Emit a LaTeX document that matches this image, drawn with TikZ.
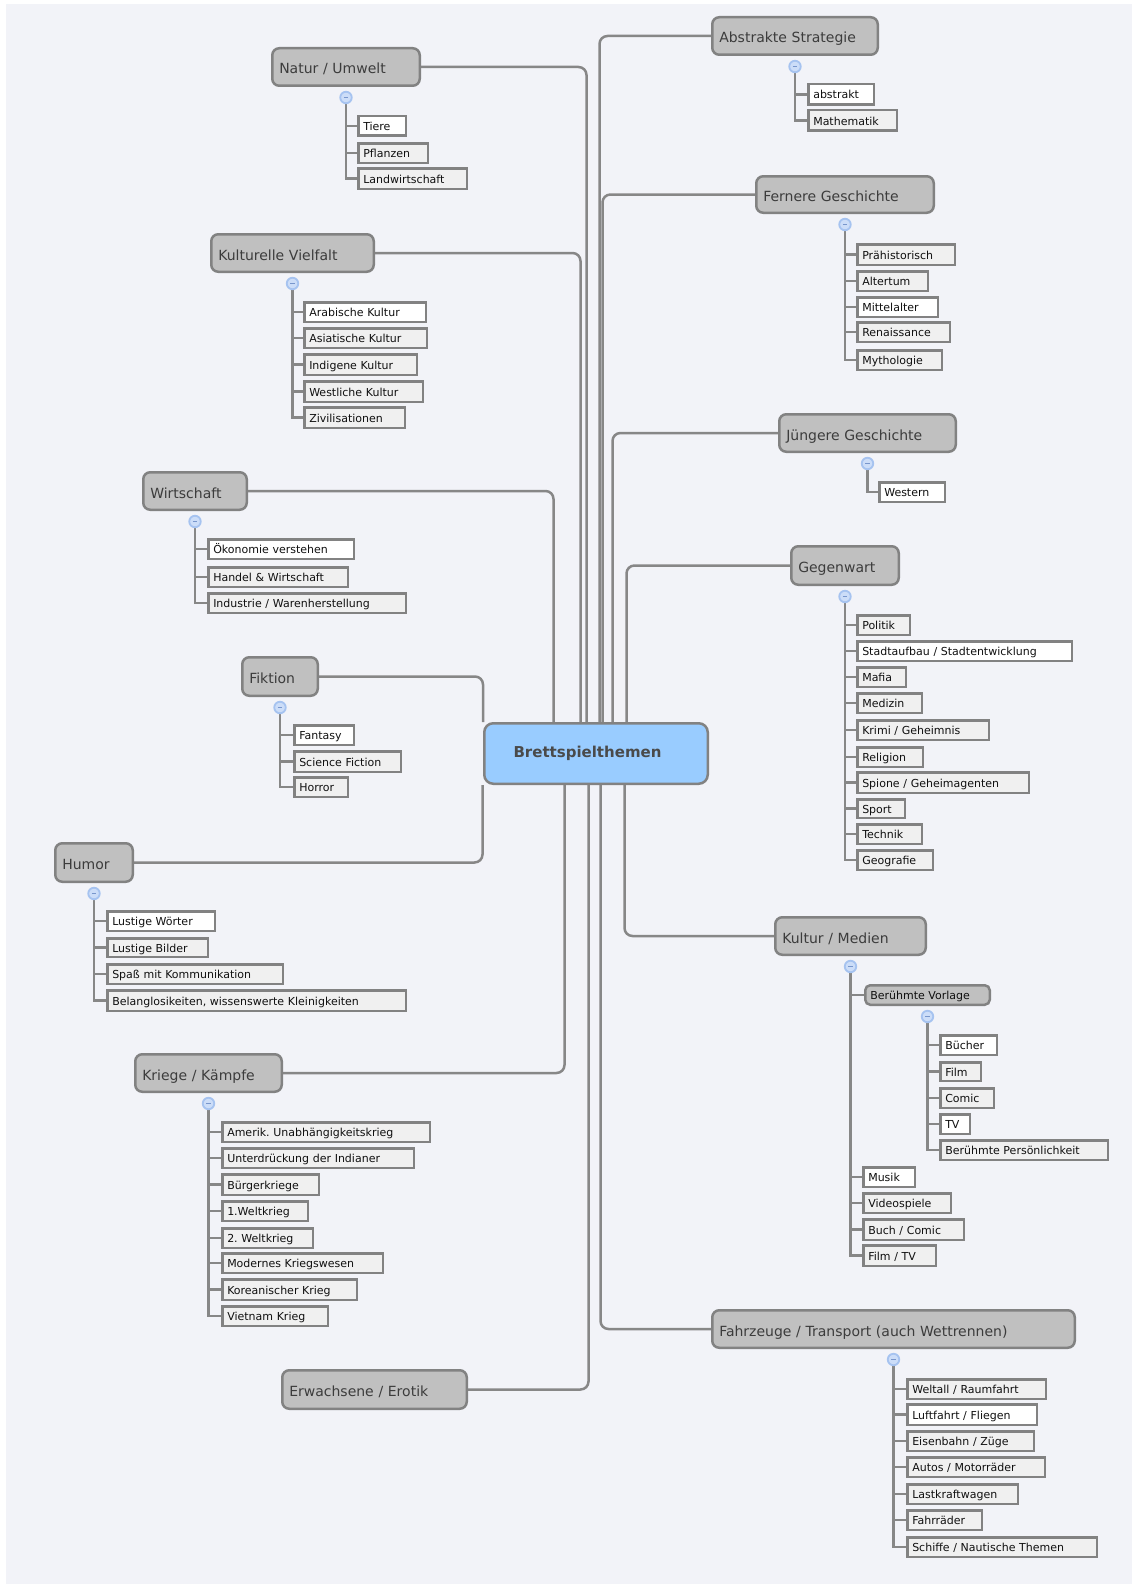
\documentclass[tikz,border=0pt]{standalone}
\usepackage{fontspec}
\setmainfont{DejaVu Sans}
\frenchspacing
\usetikzlibrary{calc}
\pgfdeclarelayer{bg}
\pgfsetlayers{bg,main}
\definecolor{panel}{HTML}{F2F3F8}
\definecolor{linecol}{HTML}{878787}
\definecolor{boxline}{HTML}{828282}
\definecolor{topicfill}{HTML}{C0C0C0}
\definecolor{leafgray}{HTML}{F0F0F0}
\definecolor{centfill}{HTML}{99CCFF}
\definecolor{topictext}{HTML}{3C3C3C}
\definecolor{leaftext}{HTML}{101010}
\definecolor{centtext}{HTML}{4A4A4A}
\definecolor{collfill}{HTML}{CCDDF8}
\definecolor{colldraw}{HTML}{A6C3F0}
\definecolor{colldash}{HTML}{7896CC}
\tikzset{
  topicbox/.style={draw=boxline, fill=topicfill, line width=2.5pt, rounded corners=7pt,
    inner xsep=7pt, inner ysep=0pt, align=left, text height=15pt, text depth=1pt,
    font=\fontsize{14}{16}\selectfont, text=topictext},
  subtopic/.style={draw=boxline, fill=topicfill, line width=2.5pt, rounded corners=5pt,
    inner xsep=5pt, inner ysep=0pt, align=left, text height=10pt, text depth=1pt,
    font=\fontsize{11}{13}\selectfont, text=leaftext},
  leafbox/.style={draw=boxline, fill=leafgray, line width=2.5pt,
    inner xsep=5pt, inner ysep=0pt, align=left, text height=10pt, text depth=1pt,
    font=\fontsize{11}{13}\selectfont, text=leaftext},
  whitebox/.style={fill=white},
  central/.style={draw=boxline, fill=centfill, line width=2.5pt, rounded corners=9pt,
    minimum width=223.5pt, minimum height=60.5pt, inner sep=0pt,
    font=\fontsize{15}{17}\selectfont\bfseries, text=centtext},
  conn/.style={draw=linecol, line width=2.5pt, rounded corners=8pt},
  spine/.style={draw=linecol, line width=2.5pt},
  coll/.style={circle, draw=colldraw, fill=collfill, line width=1.8pt, minimum size=11.5pt, inner sep=0pt,
    path picture={\draw[colldash, line width=1.8pt] ([xshift=-2.2pt]path picture bounding box.center) -- ([xshift=2.2pt]path picture bounding box.center);}},
}
% #1 style, #2 name, #3 x1, #4 y1, #5 x2, #6 y2, #7 text
\newcommand\leaf[7][]{%
  \pgfmathsetmacro\lfw{#5-#3-2.5-10}\pgfmathsetmacro\lfh{#6-#4-2.5}%
  \node[leafbox,#1,text width=\lfw pt,minimum height=\lfh pt] (#2) at ({(#3+#5)/2},{(#4+#6)/2}) {#7};}
\newcommand\topic[7][topicbox]{%
  \pgfmathsetmacro\lfw{#5-#3-2.5-14}\pgfmathsetmacro\lfh{#6-#4-2.5}%
  \node[#1,text width=\lfw pt,minimum height=\lfh pt] (#2) at ({(#3+#5)/2},{(#4+#6)/2}) {#7};}
\begin{document}
\begin{tikzpicture}[x=1pt,y=-1pt]
\useasboundingbox (0,0) rectangle (1132,1584);
\begin{pgfonlayer}{bg}
\fill[white] (0,0) rectangle (1132,1584);
\fill[panel] (6,4) rectangle (1132,1584);
\end{pgfonlayer}

% central
\node[central] (cen) at (596,753.5) {Brettspielthemen\rule{17pt}{0pt}};

% main topics
\topic{natur}{271}{47}{421}{87}{Natur / Umwelt}
\topic{abst}{711}{16}{879}{56}{Abstrakte Strategie}
\topic{kult}{210}{233}{375}{273}{Kulturelle Vielfalt}
\topic{fern}{755}{175}{935}{214}{Fernere Geschichte}
\topic{jung}{778}{413}{957}{453}{Jüngere Geschichte}
\topic{wirt}{142}{471}{248}{511}{Wirtschaft}
\topic{gegen}{790}{545}{900}{586}{Gegenwart}
\topic{fikt}{241}{656}{319}{697}{Fiktion}
\topic{humor}{54}{842}{134}{883}{Humor}
\topic{kmed}{774}{916}{927}{956}{Kultur / Medien}
\topic{krieg}{134}{1053}{283}{1093}{Kriege / Kämpfe}
\topic{erw}{281}{1369}{468}{1410}{Erwachsene / Erotik}
\topic{fahr}{711}{1309}{1076}{1349}{Fahrzeuge / Transport (auch Wettrennen)}
\topic[subtopic]{vorl}{862}{984}{993}{1006}{Berühmte Vorlage}

% collapse markers
\foreach \t in {natur,abst,kult,fern,jung,wirt,gegen,fikt,humor,kmed,krieg,fahr,vorl}
  \node[coll] (\t-c) at ([yshift=-10.5pt]\t.south) {};

% leaves
\leaf[whitebox]{tiere}{357}{115}{407}{137}{Tiere}
\leaf{pfl}{357}{142}{429}{164}{Pflanzen}
\leaf{landw}{357}{167}{468}{190}{Landwirtschaft}

\leaf[whitebox]{abstr}{807}{83}{875}{106}{abstrakt}
\leaf{mathe}{807}{109}{898}{132}{Mathematik}

\leaf[whitebox]{arab}{303}{301}{427}{323}{Arabische Kultur}
\leaf{asiat}{303}{327}{428}{349}{Asiatische Kultur}
\leaf{indig}{303}{353}{418}{376}{Indigene Kultur}
\leaf{westl}{303}{380}{424}{403}{Westliche Kultur}
\leaf{ziv}{303}{406}{406}{429}{Zivilisationen}

\leaf{prah}{856}{243}{956}{266}{Prähistorisch}
\leaf{alt}{856}{270}{929}{292}{Altertum}
\leaf[whitebox]{mitt}{856}{296}{939}{318}{Mittelalter}
\leaf{ren}{856}{321}{951}{343}{Renaissance}
\leaf{myth}{856}{349}{943}{371}{Mythologie}

\leaf[whitebox]{western}{878}{481}{946}{503}{Western}

\leaf[whitebox]{oeko}{207}{538}{355}{560}{Ökonomie verstehen}
\leaf{handel}{207}{566}{349}{588}{Handel \& Wirtschaft}
\leaf{indus}{207}{592}{407}{614}{Industrie / Warenherstellung}

\leaf{politik}{856}{614}{911}{636}{Politik}
\leaf[whitebox]{stadt}{856}{640}{1073}{662}{Stadtaufbau / Stadtentwicklung}
\leaf{mafia}{856}{666}{907}{688}{Mafia}
\leaf{medizin}{856}{692}{923}{714}{Medizin}
\leaf{krimi}{856}{719}{990}{741}{Krimi / Geheimnis}
\leaf{religion}{856}{746}{924}{768}{Religion}
\leaf{spione}{856}{771}{1030}{794}{Spione / Geheimagenten}
\leaf{sport}{856}{798}{906}{819}{Sport}
\leaf{technik}{856}{823}{923}{845}{Technik}
\leaf{geo}{856}{849}{934}{871}{Geografie}

\leaf[whitebox]{fantasy}{293}{724}{355}{746}{Fantasy}
\leaf{scifi}{293}{750}{402}{773}{Science Fiction}
\leaf{horror}{293}{776}{349}{798}{Horror}

\leaf[whitebox]{lwort}{106}{910}{216}{932}{Lustige Wörter}
\leaf{lbild}{106}{937}{209}{958}{Lustige Bilder}
\leaf{spass}{106}{963}{284}{985}{Spaß mit Kommunikation}
\leaf{belang}{106}{989}{407}{1012}{Belanglosikeiten, wissenswerte Kleinigkeiten}

\leaf[whitebox]{buecher}{939}{1034}{998}{1056}{Bücher}
\leaf{film}{939}{1061}{982}{1082}{Film}
\leaf{comic}{939}{1087}{995}{1109}{Comic}
\leaf[whitebox]{tv}{939}{1113}{971}{1135}{TV}
\leaf{pers}{939}{1139}{1109}{1161}{Berühmte Persönlichkeit}
\leaf[whitebox]{musik}{862}{1166}{916}{1188}{Musik}
\leaf{video}{862}{1192}{952}{1214}{Videospiele}
\leaf{buch}{862}{1218}{965}{1241}{Buch / Comic}
\leaf{filmtv}{862}{1244}{937}{1267}{Film / TV}

\leaf{amerik}{221}{1121}{431}{1143}{Amerik. Unabhängigkeitskrieg}
\leaf{unter}{221}{1147}{415}{1169}{Unterdrückung der Indianer}
\leaf{buerger}{221}{1173}{320}{1196}{Bürgerkriege}
\leaf{wka}{221}{1200}{309}{1222}{1.Weltkrieg}
\leaf{wkb}{221}{1227}{314}{1249}{2. Weltkrieg}
\leaf{modern}{221}{1252}{384}{1274}{Modernes Kriegswesen}
\leaf{korea}{221}{1278}{358}{1301}{Koreanischer Krieg}
\leaf{vietnam}{221}{1305}{329}{1327}{Vietnam Krieg}

\leaf{weltall}{906}{1378}{1047}{1400}{Weltall / Raumfahrt}
\leaf[whitebox]{luft}{906}{1403}{1038}{1426}{Luftfahrt / Fliegen}
\leaf{eisen}{906}{1430}{1035}{1452}{Eisenbahn / Züge}
\leaf{autos}{906}{1456}{1046}{1478}{Autos / Motorräder}
\leaf{lkw}{906}{1483}{1019}{1505}{Lastkraftwagen}
\leaf{rad}{906}{1509}{983}{1531}{Fahrräder}
\leaf{schiff}{906}{1536}{1098}{1558}{Schiffe / Nautische Themen}

\begin{pgfonlayer}{bg}
% connectors to the central topic
\draw[conn] (natur.east) -| ([xshift=103.5pt]cen.north west);
\draw[conn] (kult.east) -| ([xshift=97.5pt]cen.north west);
\draw[conn] (wirt.east) -| ([xshift=70.5pt]cen.north west);
\draw[conn] (fikt.east) -| ([xshift=0pt]cen.north west);
\draw[conn] (abst.west) -| ([xshift=116.5pt]cen.north west);
\draw[conn] (fern.west) -| ([xshift=119.5pt]cen.north west);
\draw[conn] (jung.west) -| ([xshift=129.5pt]cen.north west);
\draw[conn] (gegen.west) -| ([xshift=143.5pt]cen.north west);
\draw[conn] (humor.east) -| ([xshift=-0.5pt]cen.south west);
\draw[conn] (krieg.east) -| ([xshift=81.5pt]cen.south west);
\draw[conn] (erw.east) -| ([xshift=105.5pt]cen.south west);
\draw[conn] (fahr.west) -| ([xshift=117.5pt]cen.south west);
\draw[conn] (kmed.west) -| ([xshift=141.5pt]cen.south west);

% spines and branches
\foreach \p/\last/\others in {%
  natur/landw/{tiere,pfl},
  abst/mathe/{abstr},
  kult/ziv/{arab,asiat,indig,westl},
  fern/myth/{prah,alt,mitt,ren},
  jung/western/{},
  wirt/indus/{oeko,handel},
  gegen/geo/{politik,stadt,mafia,medizin,krimi,religion,spione,sport,technik},
  fikt/horror/{fantasy,scifi},
  humor/belang/{lwort,lbild,spass},
  kmed/filmtv/{vorl,musik,video,buch},
  vorl/pers/{buecher,film,comic,tv},
  krieg/vietnam/{amerik,unter,buerger,wka,wkb,modern,korea},
  fahr/schiff/{weltall,luft,eisen,autos,lkw,rad}} {
  \draw[spine] (\p-c.center) |- (\last.west);
  \foreach \o in \others { \draw[spine] (\p-c.center |- \o.west) -- (\o.west); }
}
\end{pgfonlayer}
\end{tikzpicture}
\end{document}
